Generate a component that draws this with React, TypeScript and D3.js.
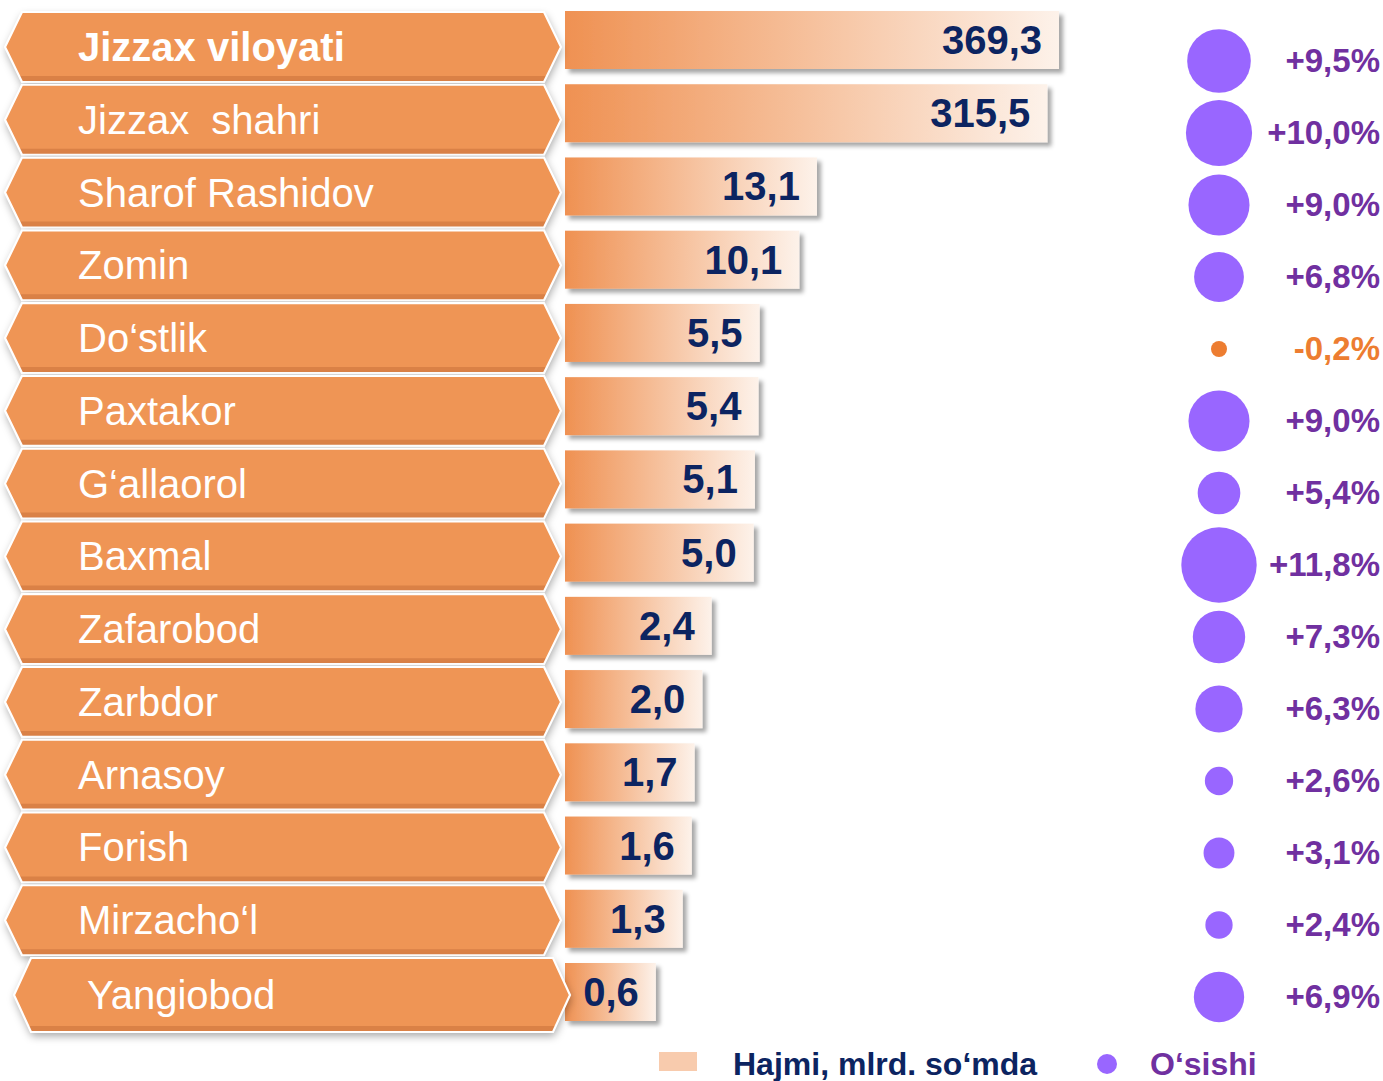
import React from 'react';
import * as d3 from 'd3';

const regions = [
  'Jizzax viloyati', 'Jizzax  shahri', 'Sharof Rashidov', 'Zomin', 'Do‘stlik', 'Paxtakor',
  'G‘allaorol', 'Baxmal', 'Zafarobod', 'Zarbdor', 'Arnasoy', 'Forish', 'Mirzacho‘l', 'Yangiobod',
];
const volumes = [369.3, 315.5, 13.1, 10.1, 5.5, 5.4, 5.1, 5.0, 2.4, 2.0, 1.7, 1.6, 1.3, 0.6];
const growth = [9.5, 10.0, 9.0, 6.8, -0.2, 9.0, 5.4, 11.8, 7.3, 6.3, 2.6, 3.1, 2.4, 6.9];
const legendLabels = ['Hajmi, mlrd. so‘mda', 'O‘sishi'];

const W = 1383;
const H = 1081;
const FONT = '"Liberation Sans", Arial, Helvetica, sans-serif';
const NAVY = '#0c2461';
const PURPLE = '#7030a0';
const BUBBLE = '#9966ff';
const NEG = '#ed7d31';
const BANNER = '#ef9555';

const fmt1 = (v: number) => d3.format('.1f')(v).replace('.', ',');
const fmtG = (v: number) => (v > 0 ? '+' : v < 0 ? '-' : '') + fmt1(Math.abs(v)) + '%';

function hexPath(x0: number, x1: number, top: number, h: number, inset: number) {
  const cy = top + h / 2;
  return `M${x0},${cy}L${x0 + inset},${top}L${x1 - inset},${top}L${x1},${cy}L${x1 - inset},${top + h}L${x0 + inset},${top + h}Z`;
}

function stripPath(x0: number, x1: number, top: number, h: number, inset: number, s: number) {
  const b = top + h;
  const t = 1 - s / (h / 2);
  return `M${x0 + inset * t},${b - s}L${x1 - inset * t},${b - s}L${x1 - inset},${b}L${x0 + inset},${b}Z`;
}

export default function App() {
  const n = regions.length;
  const idx = d3.range(n);
  const barTop = d3.scaleLinear().domain([0, n - 1]).range([11, 963]);
  const barH = 58;
  const bannerTop = d3.scaleLinear().domain([0, n - 1]).range([12, 958]);
  const bannerH = 70;
  const growthY = d3.scaleLinear().domain([0, n - 1]).range([61, 997]);
  const barX0 = 565;
  const x = d3
    .scaleSymlog()
    .domain([0, d3.max(volumes) as number])
    .range([barX0 + 56, 1059]);
  const r = d3
    .scaleLinear()
    .domain([0, d3.max(growth) as number])
    .range([7.5, 37.7]);

  return (
    <svg
      width={W}
      height={H}
      viewBox={`0 0 ${W} ${H}`}
      style={{ position: 'absolute', left: 0, top: 0, background: '#fff' }}
      fontFamily={FONT}
    >
      <defs>
        <linearGradient id="barGrad" x1="0" x2="1" y1="0" y2="0">
          <stop offset="0" stopColor="#ef9152" />
          <stop offset="0.5" stopColor="#f6c19d" />
          <stop offset="1" stopColor="#fdf2ea" />
        </linearGradient>
        <filter id="barShadow" x="-5%" y="-20%" width="115%" height="150%">
          <feDropShadow dx="4" dy="4" stdDeviation="2" floodColor="#000" floodOpacity="0.35" />
        </filter>
        <filter id="banShadow" x="-5%" y="-20%" width="110%" height="150%">
          <feDropShadow dx="1" dy="4" stdDeviation="4" floodColor="#000" floodOpacity="0.35" />
        </filter>
      </defs>

      {/* bars */}
      {idx.map((i) => (
        <g key={`bar${i}`}>
          <rect
            x={barX0}
            y={barTop(i)}
            width={x(volumes[i]) - barX0}
            height={barH}
            fill="url(#barGrad)"
            filter="url(#barShadow)"
          />
          <text
            x={x(volumes[i]) - 17}
            y={barTop(i) + barH / 2 + 14}
            textAnchor="end"
            fontSize={40}
            fontWeight="bold"
            fill={NAVY}
          >
            {fmt1(volumes[i])}
          </text>
        </g>
      ))}

      {/* banners */}
      {idx.map((i) => {
        const shift = i === n - 1 ? 9 : 0;
        const x0 = 5 + shift;
        const x1 = 561 + shift;
        const top = bannerTop(i);
        const h = i === n - 1 ? 74 : bannerH;
        return (
          <g key={`ban${i}`}>
            <path d={hexPath(x0, x1, top, h, 17)} fill={BANNER} filter="url(#banShadow)" />
            <path d={stripPath(x0, x1, top, h, 17, 6)} fill="#c9713a" opacity={0.55} />
            <path d={hexPath(x0, x1, top, h, 17)} fill="none" stroke="#fff" strokeWidth={2.2} />
            <text
              x={78 + shift}
              y={top + h / 2 + 14}
              fontSize={40}
              fontWeight={i === 0 ? 'bold' : 'normal'}
              fill="#fff"
              style={{ whiteSpace: 'pre' }}
            >
              {regions[i]}
            </text>
          </g>
        );
      })}

      {/* growth bubbles */}
      {idx.map((i) => (
        <g key={`g${i}`}>
          <circle cx={1219} cy={growthY(i)} r={r(Math.abs(growth[i]))} fill={growth[i] < 0 ? NEG : BUBBLE} />
          <text
            x={1380}
            y={growthY(i) + 11}
            textAnchor="end"
            fontSize={33}
            fontWeight="bold"
            fill={growth[i] < 0 ? NEG : PURPLE}
          >
            {fmtG(growth[i])}
          </text>
        </g>
      ))}

      {/* legend */}
      <rect x={659} y={1052} width={38} height={19} fill="#f8cbad" />
      <text x={733} y={1075} fontSize={32} fontWeight="bold" fill={NAVY}>
        {legendLabels[0]}
      </text>
      <circle cx={1107} cy={1064} r={10} fill={BUBBLE} />
      <text x={1150} y={1075} fontSize={32} fontWeight="bold" fill={PURPLE}>
        {legendLabels[1]}
      </text>
    </svg>
  );
}
